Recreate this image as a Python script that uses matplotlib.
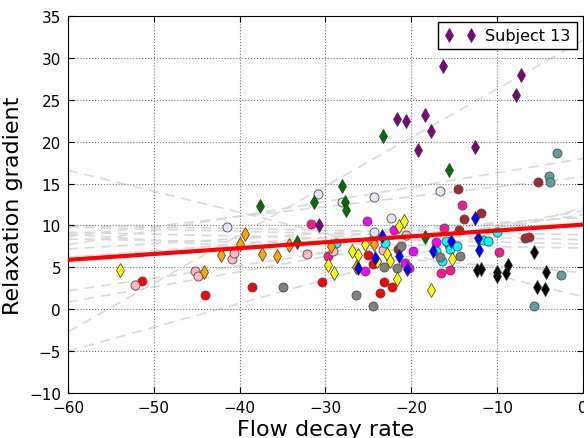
import matplotlib
matplotlib.use('Agg')
import matplotlib.pyplot as plt
import numpy as np

# per-subject points (colour, marker)
purple_x = [-30.7, -21.6, -20.6, -18.4, -17.7, -19.2, -16.3, -12.6, -7.8, -7.2]
purple_y = [10.0, 22.7, 22.5, 23.2, 21.3, 19.0, 29.0, 19.4, 25.6, 28.0]
green_x = [-37.6, -33.3, -31.3, -28.1, -27.7, -27.6, -23.3, -18.4, -15.6]
green_y = [12.3, 8.0, 12.8, 14.7, 12.8, 11.9, 20.7, 8.6, 16.6]
black_x = [-12.3, -11.9, -10.0, -10.0, -8.9, -8.75, -5.65, -4.3, -5.3, -4.4]
black_y = [4.7, 4.8, 4.5, 4.0, 4.3, 5.25, 6.85, 4.5, 2.6, 2.4]
orange_x = [-44.15, -42.2, -40.0, -39.35, -37.4, -35.6, -34.3, -29.3, -24.3, -26.4]
orange_y = [4.4, 6.5, 7.85, 9.0, 6.65, 6.35, 7.65, 7.6, 7.8, 5.0]
yellow_x = [-53.9, -29.75, -29.0, -26.9, -26.2, -25.4, -24.0, -22.8, -22.5, -21.7, -21.4, -20.8, -15.2, -17.7]
yellow_y = [4.7, 5.3, 4.3, 7.0, 6.5, 7.85, 5.8, 6.65, 5.8, 3.6, 9.95, 10.55, 6.0, 2.3]
blue_x = [-23.4, -21.4, -20.5, -26.2, -12.6, -15.4, -17.5, -12.2, -12.1, -24.2]
blue_y = [8.7, 6.4, 4.8, 4.9, 10.9, 8.1, 6.9, 8.45, 7.1, 6.1]

teal_x = [-3.0, -3.9, -3.8, -2.55, -5.7]
teal_y = [18.7, 15.9, 15.2, 4.1, 0.35]
brown_x = [-5.2, -6.7, -6.3, -14.6, -13.8, -11.9, -14.4, -15.6, -21.5]
brown_y = [15.2, 8.45, 8.6, 14.3, 10.75, 11.5, 9.5, 7.7, 7.2]
deeppink_x = [-14.1, -16.2, -9.8, -15.5, -16.5, -31.7, -29.7]
deeppink_y = [12.5, 9.7, 6.8, 4.7, 4.3, 10.2, 6.4]
magenta_x = [-25.2, -22.05, -25.4, -20.7, -17.1, -19.8, -20.2]
magenta_y = [10.5, 9.45, 4.6, 5.5, 8.0, 7.0, 4.9]
red_x = [-51.4, -44.0, -38.6, -30.4, -25.0, -24.5, -23.2, -22.2, -23.6]
red_y = [3.35, 1.75, 2.6, 3.2, 6.5, 5.4, 3.2, 2.7, 1.9]
pink_x = [-52.15, -45.2, -44.9, -40.85, -40.7, -32.1, -29.1, -23.3, -20.6, -24.5]
pink_y = [2.9, 4.6, 3.95, 6.0, 6.7, 6.65, 6.9, 7.1, 8.85, 8.4]
lavender_x = [-41.5, -30.9, -28.1, -24.3, -22.4, -24.3, -16.6]
lavender_y = [9.8, 13.8, 12.8, 13.4, 10.9, 9.2, 14.1]
cyan_x = [-28.8, -23.05, -15.9, -15.5, -14.7, -17.1, -16.45, -11.6, -11.0, -10.0]
cyan_y = [7.9, 7.9, 8.2, 7.2, 7.6, 6.9, 5.8, 8.3, 8.2, 9.2]
gray_x = [-35.0, -26.4, -24.5, -23.2, -21.7, -21.2, -16.7, -14.3]
gray_y = [2.65, 1.7, 0.4, 5.0, 4.9, 7.5, 6.2, 6.4]

# per-subject fits, value at x=-60 and at x=0
fit_left = [-2.7, 16.6, 7.7, 8.7, -5.0, 0.85, 2.2, 10.0, 9.8, 9.2, 8.4, 6.2, 7.2, 9.0]
fit_right = [32.1, 1.5, 18.0, 15.8, 12.1, 11.75, 11.3, 8.9, 8.3, 7.8, 7.3, 11.0, 10.96, 4.4]

# overall fit
overall_left = 5.9
overall_right = 10.1
x_ends = [-60, 0]

fig = plt.figure(figsize=(5.84, 4.39), dpi=100)
ax = fig.add_axes([0.1164, 0.1025, 0.8816, 0.8585])

for l, r in zip(fit_left, fit_right):
    ax.plot(x_ends, [l, r], '--', color='#d9d9d9', lw=1.2, dashes=(6, 4), zorder=1)

circles = [(teal_x, teal_y, '#5f9ea0'), (brown_x, brown_y, '#a52a2a'),
           (deeppink_x, deeppink_y, '#ff1493'), (magenta_x, magenta_y, '#ff00ff'),
           (red_x, red_y, '#ff0000'), (pink_x, pink_y, '#ffb6c1'),
           (lavender_x, lavender_y, '#e6e6fa'), (cyan_x, cyan_y, '#00ffff'),
           (gray_x, gray_y, '#808080')]
diamonds = [(green_x, green_y, '#007000'), (black_x, black_y, '#000000'),
            (orange_x, orange_y, '#ffa500'), (yellow_x, yellow_y, '#ffff00'),
            (blue_x, blue_y, '#0000ff')]

for xs, ys, c in circles:
    ax.plot(xs, ys, 'o', color=c, ms=6.5, mec='0.3', mew=0.6, zorder=3)
for xs, ys, c in diamonds:
    ax.plot(xs, ys, 'd', color=c, ms=7.5, mec='0.2', mew=0.5, zorder=3)
ax.plot(purple_x, purple_y, 'd', color='#800080', ms=7.5, mec='0.2', mew=0.5,
        zorder=3, label='Subject 13')

ax.plot(x_ends, [overall_left, overall_right], color='red', lw=3, zorder=4)

ax.set_xlim(-60, 0)
ax.set_ylim(-10, 35)
ax.grid(True, linestyle=':', color='0.45', lw=0.8)
ax.tick_params(direction='in', top=True, right=True, labelsize=11, length=4, pad=5)
ax.set_xlabel('Flow decay rate', fontsize=16, labelpad=3)
ax.set_ylabel('Relaxation gradient', fontsize=16, labelpad=4)
leg = ax.legend(loc='upper right', numpoints=2, fontsize=11.5, fancybox=False,
                framealpha=1, borderaxespad=0.35, handlelength=2.0,
                handletextpad=0.6)
leg.get_frame().set_edgecolor('black')

fig.savefig('out.png', dpi=100)
